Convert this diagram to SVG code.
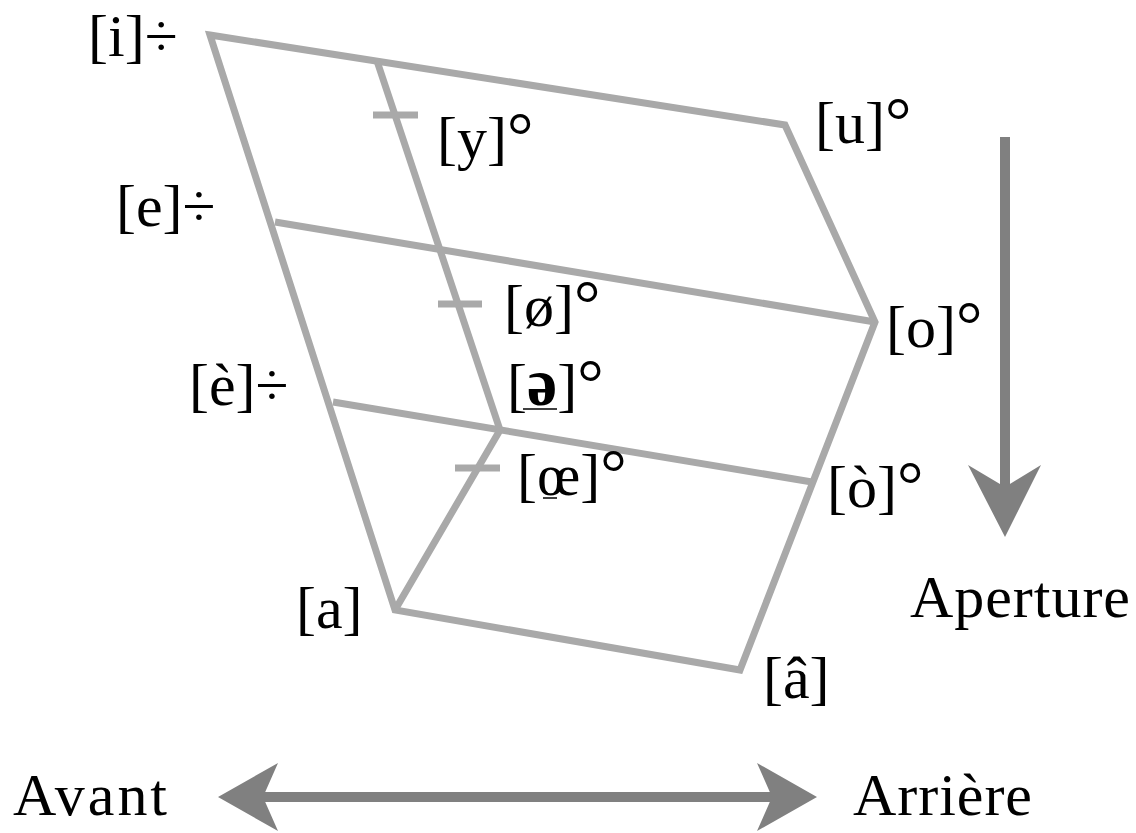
<svg xmlns="http://www.w3.org/2000/svg" width="1136" height="833" viewBox="0 0 1136 833">
<style>
.g{fill:none;stroke:#a9a9a9;stroke-width:7;stroke-linejoin:miter;stroke-linecap:butt}
.t{font-family:"Liberation Serif","Times New Roman",serif;font-size:60px;fill:#000}
.d{font-size:66px}
.ar{fill:#808080}
.ul{stroke:#000;stroke-width:1.5}
</style>
<rect width="1136" height="833" fill="#fff"/>
<g id="connectors">
<polygon class="g" points="210,35 785,125 875,322 740,670 395,610"/>
<line class="g" x1="275" y1="222" x2="875" y2="322"/>
<line class="g" x1="333" y1="402" x2="812" y2="482"/>
<polyline class="g" points="377,61 500,430 395,610"/>
<line class="g" x1="373" y1="115" x2="418" y2="115"/>
<line class="g" x1="438" y1="304" x2="482" y2="304"/>
<line class="g" x1="455" y1="468" x2="500" y2="468"/>
</g>
<g id="arrow-aperture">
<rect class="ar" x="1000" y="137" width="10" height="352"/>
<polygon class="ar" points="968,465 1005,537 1041,465 1005,487"/>
</g>
<g id="arrow-avant-arriere">
<rect class="ar" x="262" y="792" width="510" height="10"/>
<polygon class="ar" points="218,797 278,763 263,797 278,831"/>
<polygon class="ar" points="817,797 757,763 772,797 757,831"/>
</g>
<g id="n-i"><text class="t" x="88" y="56">[i]÷</text></g>
<g id="n-u"><text class="t" x="815" y="143">[u]<tspan class="d">°</tspan></text></g>
<g id="n-y"><text class="t" x="437" y="158">[y]<tspan class="d">°</tspan></text></g>
<g id="n-e"><text class="t" x="116" y="226">[e]÷</text></g>
<g id="n-oe-slash"><text class="t" x="504" y="326">[ø]<tspan class="d">°</tspan></text></g>
<g id="n-o"><text class="t" x="886" y="347">[o]<tspan class="d">°</tspan></text></g>
<g id="n-e-grave"><text class="t" x="189" y="405">[è]÷</text></g>
<g id="n-schwa"><text class="t" x="507" y="405">[<tspan font-weight="bold" font-size="68">ə</tspan>]<tspan class="d">°</tspan></text><line class="ul" x1="523" y1="409" x2="557" y2="409"/></g>
<g id="n-oe"><text class="t" x="517" y="495">[œ]<tspan class="d">°</tspan></text><line class="ul" x1="543" y1="498" x2="557" y2="498"/></g>
<g id="n-o-grave"><text class="t" x="827" y="507">[ò]<tspan class="d">°</tspan></text></g>
<g id="n-a"><text class="t" x="296" y="628">[a]</text></g>
<g id="n-a-circ"><text class="t" x="763" y="698">[â]</text></g>
<g id="labels">
<text class="t" x="910" y="617" textLength="220">Aperture</text>
<text class="t" x="13" y="815" textLength="154">Avant</text>
<text class="t" x="853" y="815" textLength="179">Arrière</text>
</g>
</svg>
